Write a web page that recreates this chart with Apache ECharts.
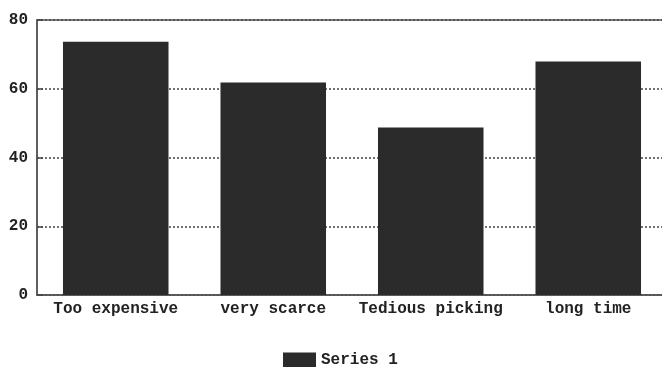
<!DOCTYPE html>
<html>
<head>
<meta charset="utf-8">
<script src="https://cdn.jsdelivr.net/npm/echarts@6/dist/echarts.min.js"></script>
<style>
  html, body { margin: 0; padding: 0; background: #ffffff; overflow: hidden; }
  /* canvas is a little wider than the page so the plot frame runs past the right edge */
  #chart { width: 668px; height: 367px; }
</style>
</head>
<body>
<div id="chart"></div>
<script>
// Reasons given, with the share of answers for each
const categories = ['Too expensive', 'very scarce', 'Tedious picking', 'long time'];
const series1 = [73.7, 61.8, 48.7, 67.9];
const yTicks = [0, 20, 40, 60, 80];
const seriesName = 'Series 1';

const font = '"Liberation Mono", "DejaVu Sans Mono", monospace';
const chart = echarts.init(document.getElementById('chart'), null, { renderer: 'canvas' });

chart.setOption({
  animation: false,
  backgroundColor: '#ffffff',
  grid: { left: 37, right: 1, top: 20, bottom: 72, show: true, borderColor: '#555', borderWidth: 1.5, backgroundColor: 'transparent' },
  legend: {
    bottom: -6,
    left: 278,
    itemWidth: 33,
    itemHeight: 15,
    itemGap: 6,
    icon: 'rect',
    data: [seriesName],
    textStyle: { fontFamily: font, fontWeight: 'bold', fontSize: 16, color: '#222' }
  },
  xAxis: {
    type: 'category',
    data: categories,
    axisLine: { show: true, lineStyle: { color: '#555', width: 1.5 } },
    axisTick: { show: false },
    axisLabel: { interval: 0, margin: 6, fontFamily: font, fontWeight: 'bold', fontSize: 16, color: '#222' }
  },
  yAxis: {
    type: 'value',
    min: yTicks[0],
    max: yTicks[yTicks.length - 1],
    interval: yTicks[1] - yTicks[0],
    axisLine: { show: true, lineStyle: { color: '#555', width: 1.5 } },
    axisTick: { show: true, inside: true, length: 6, lineStyle: { color: '#444', width: 1.5 } },
    axisLabel: { margin: 9, fontFamily: font, fontWeight: 'bold', fontSize: 16, color: '#222' },
    splitLine: { show: true, lineStyle: { color: '#444', type: [2, 2], width: 1.5 } }
  },
  series: [{
    name: seriesName,
    type: 'bar',
    data: series1,
    barWidth: '67%',
    itemStyle: { color: '#2b2b2b' }
  }]
});
</script>
</body>
</html>
